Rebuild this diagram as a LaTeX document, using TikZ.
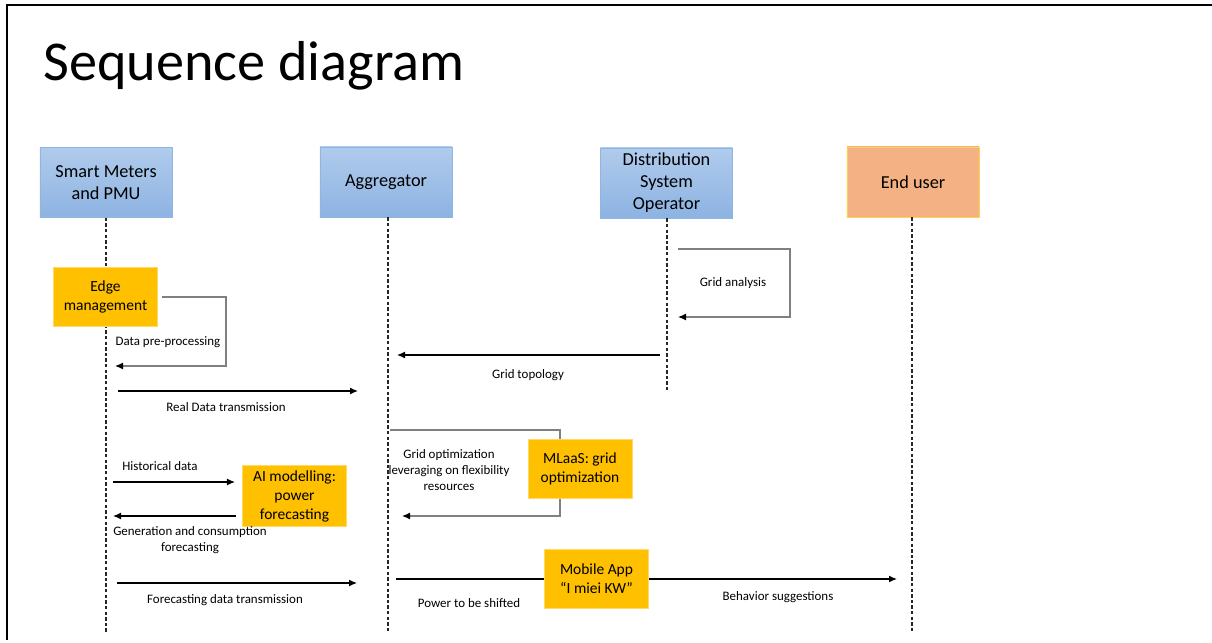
\documentclass[tikz,border=0pt]{standalone}
\usepackage{fontspec}
\setmainfont{Carlito}
\usetikzlibrary{arrows.meta}

\definecolor{laneTop}{HTML}{B0CBEC}
\definecolor{laneBot}{HTML}{8DB3E2}
\definecolor{laneLine}{HTML}{8FB5E4}
\definecolor{userFill}{HTML}{F4B183}
\definecolor{userLine}{HTML}{FFD34D}
\definecolor{taskFill}{HTML}{FFC000}
\definecolor{taskLine}{HTML}{FFD966}

\tikzset{
  lane/.style={rectangle, draw=laneLine, top color=laneTop, bottom color=laneBot,
    minimum width=3.3cm, minimum height=1.75cm, align=center,
    font=\fontsize{13}{15.6}\selectfont},
  userlane/.style={lane, draw=userLine, fill=userFill, top color=userFill, bottom color=userFill},
  task/.style={rectangle, draw=taskLine, fill=taskFill, minimum width=2.6cm,
    minimum height=1.48cm, align=center, font=\fontsize{11}{13.5}\selectfont},
  life/.style={dash pattern=on 2.4pt off 1.6pt, line width=0.8pt, black!85},
  msg/.style={->, line width=0.8pt},
  selfmsg/.style={-{Latex[length=2mm,width=1.7mm,color=black]}, line width=0.8pt, black!50},
  lbl/.style={align=center, font=\fontsize{9.2}{11.4}\selectfont}
}

\begin{document}
\begin{tikzpicture}[x=0.025cm, y=-0.025cm, >={Latex[length=2mm,width=1.7mm]}]
  \useasboundingbox (0,0) rectangle (1212,643);
  % frame
  \draw[line width=1.5pt] (7,640) -- (7,5) -- (1212,5);
  \node[anchor=base west, font=\fontsize{40}{46}\selectfont, inner sep=0pt] (title) at (43,81) {Sequence diagram};

  % participants
  \node[lane] (sm) at (106,182.5) {Smart Meters\\and PMU};
  \node[lane] (agg) at (386,182) {Aggregator};
  \node[lane] (dso) at (666.5,183) {Distribution\\System\\Operator};
  \node[userlane] (eu) at (913,182) {End user};

  % lifelines
  \coordinate (smEnd) at (106,632);
  \coordinate (aggEnd) at (388,632);
  \coordinate (dsoEnd) at (667,390);
  \coordinate (euEnd) at (912,632);
  \draw[life] (sm.south) -- (smEnd);
  \draw[life] (agg.south -| aggEnd) -- (aggEnd);
  \draw[life] (dso.south -| dsoEnd) -- (dsoEnd);
  \draw[life] (eu.south -| euEnd) -- (euEnd);

  % edge pre-processing
  \node[task] (edge) at (105.5,297) {Edge\\management};
  \coordinate (dppA) at (226,297);
  \coordinate (dppB) at (115,366);
  \draw[selfmsg] ([xshift=1mm]edge.east) -- (dppA) |- (dppB);
  \node[lbl] (dpp) at (168,342) {Data pre-processing};

  % real data
  \coordinate (rdA) at (118,391);
  \coordinate (rdB) at (358,391);
  \draw[msg] (rdA) -- (rdB);
  \node[lbl] (rd) at (226,407) {Real Data transmission};

  % grid analysis
  \coordinate (gaA) at (678,249);
  \coordinate (gaB) at (790,249);
  \coordinate (gaC) at (678,317);
  \draw[selfmsg] (gaA) -- (gaB) |- (gaC);
  \node[lbl] (ga) at (733,283) {Grid analysis};

  % grid topology
  \coordinate (gtA) at (660,355);
  \coordinate (gtB) at (397,355);
  \draw[msg] (gtA) -- (gtB);
  \node[lbl] (gt) at (528,375) {Grid topology};

  % grid optimization
  \coordinate (goA) at (390,430);
  \coordinate (goB) at (560,430);
  \coordinate (goC) at (402,516);
  \draw[selfmsg] (goA) -- (goB) |- (goC);
  \node[lbl] (go) at (449,470) {Grid optimization\\leveraging on flexibility\\resources};
  \node[task] (mlaas) at (580,469) {MLaaS: grid\\optimization};

  % AI forecasting
  \node[task] (ai) at (294.5,496) {AI modelling:\\power\\forecasting};
  \coordinate (hdA) at (113,482);
  \coordinate (hdB) at (235,482);
  \draw[msg] (hdA) -- (hdB);
  \node[lbl] (hd) at (160,466) {Historical data};
  \coordinate (gcA) at (236,516);
  \coordinate (gcB) at (113,516);
  \draw[msg] (gcA) -- (gcB);
  \node[lbl] (gc) at (190,540) {Generation and consumption\\forecasting};

  % forecasting data
  \coordinate (fdA) at (117,583);
  \coordinate (fdB) at (357,583);
  \draw[msg] (fdA) -- (fdB);
  \node[lbl] (fd) at (225,600) {Forecasting data transmission};

  % mobile app
  \node[task] (app) at (596.5,579) {Mobile App\\“I miei KW”};
  \coordinate (psA) at (396,579);
  \coordinate (bsB) at (897,579);
  \draw[line width=0.8pt] (psA) -- (app.west);
  \draw[msg] (app.east) -- (bsB);
  \node[lbl] (ps) at (469,603) {Power to be shifted};
  \node[lbl] (bs) at (778,597) {Behavior suggestions};
\end{tikzpicture}
\end{document}
